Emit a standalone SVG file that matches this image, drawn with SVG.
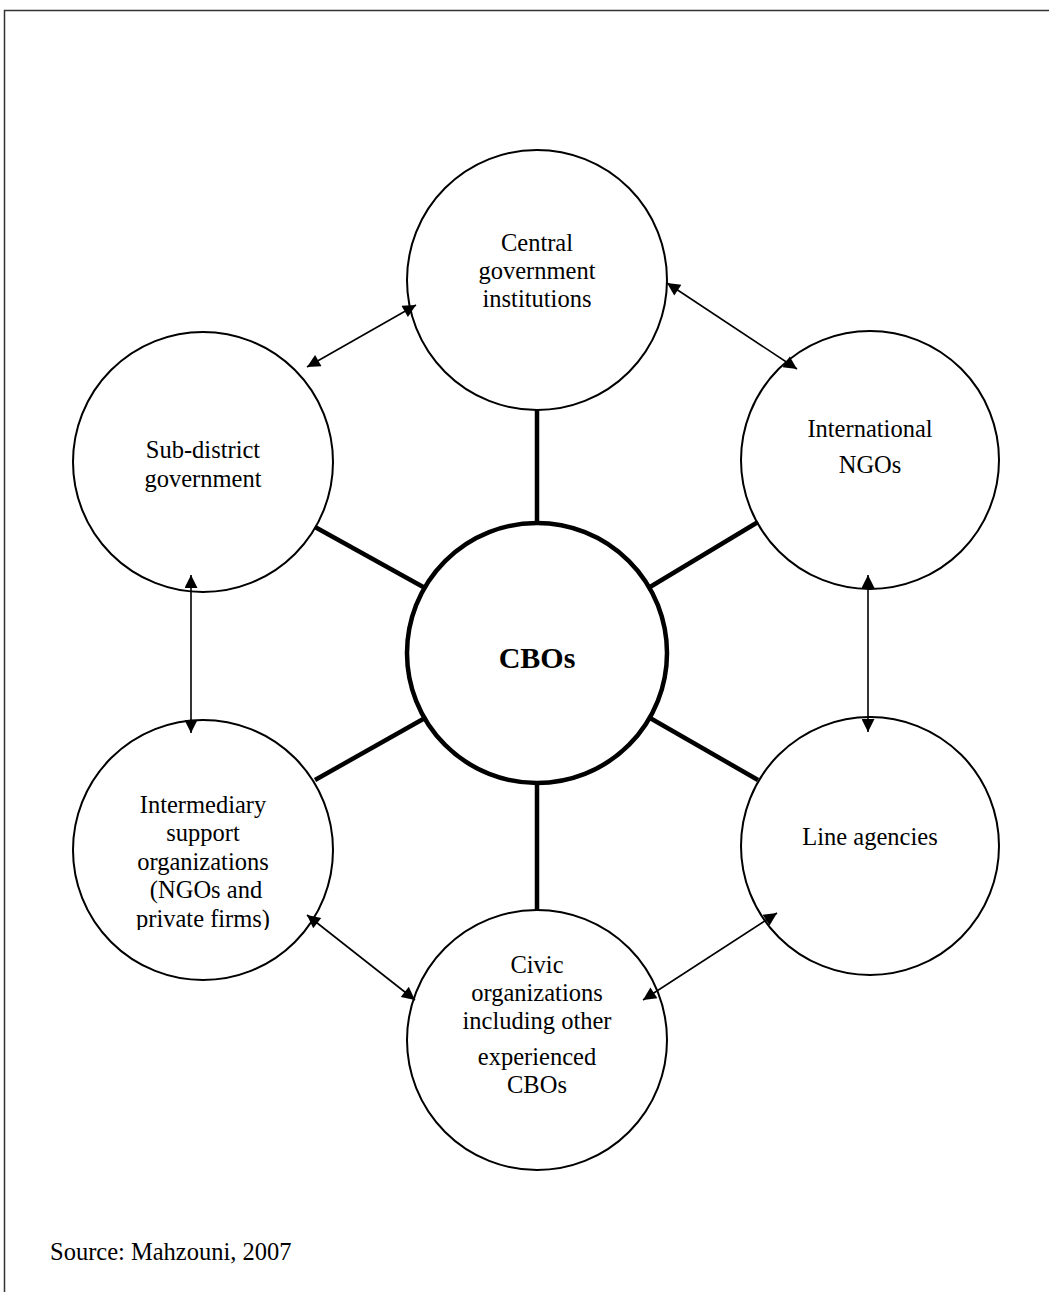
<svg xmlns="http://www.w3.org/2000/svg" width="1049" height="1292" viewBox="0 0 1049 1292">
<style>
.node{fill:#fff;stroke:#000;stroke-width:2}
.center{fill:#fff;stroke:#000;stroke-width:4.5}
text{font-family:'Liberation Serif','Times New Roman',Times,serif;fill:#000;text-anchor:middle}
.t{font-size:24.5px}
.b{font-size:30px;font-weight:bold}
.spoke{stroke:#000;stroke-width:4.5}
.arr{stroke:#000;stroke-width:1.6;fill:none;marker-start:url(#ah);marker-end:url(#ah)}
</style>
<defs>
<marker id="ah" viewBox="0 0 10 10" refX="10" refY="5" markerWidth="16" markerHeight="13" markerUnits="userSpaceOnUse" orient="auto-start-reverse">
<path d="M0,0 L10,5 L0,10 Z" fill="#000"/>
</marker>
<clipPath id="clipInt"><rect x="60" y="700" width="300" height="230"/></clipPath>
</defs>
<rect width="1049" height="1292" fill="#fff"/>
<path d="M4.5,1292 V10.5 H1049" fill="none" stroke="#333" stroke-width="1.5"/>
<g id="central-gov">
<circle class="node" cx="537" cy="280" r="130"/>
<text class="t" x="537" y="251" font-family="Liberation Serif, serif">Central</text>
<text class="t" x="537" y="279" font-family="Liberation Serif, serif">government</text>
<text class="t" x="537" y="307" font-family="Liberation Serif, serif">institutions</text>
</g>
<g id="sub-district">
<circle class="node" cx="203" cy="462" r="130"/>
<text class="t" x="203" y="458" font-family="Liberation Serif, serif">Sub-district</text>
<text class="t" x="203" y="487" font-family="Liberation Serif, serif">government</text>
</g>
<g id="intl-ngos">
<circle class="node" cx="870" cy="460" r="129"/>
<text class="t" x="870" y="437" font-family="Liberation Serif, serif">International</text>
<text class="t" x="870" y="473" font-family="Liberation Serif, serif">NGOs</text>
</g>
<g id="cbos">
<circle class="center" cx="537" cy="653" r="130"/>
<text class="b" x="537" y="668" font-family="Liberation Serif, serif">CBOs</text>
</g>
<g id="intermediary">
<circle class="node" cx="203" cy="850" r="130"/>
<g clip-path="url(#clipInt)">
<text class="t" x="203" y="813" font-family="Liberation Serif, serif">Intermediary</text>
<text class="t" x="203" y="841" font-family="Liberation Serif, serif">support</text>
<text class="t" x="203" y="870" font-family="Liberation Serif, serif">organizations</text>
<text class="t" x="206" y="898" font-family="Liberation Serif, serif">(NGOs and</text>
<text class="t" x="203" y="927" font-family="Liberation Serif, serif">private firms)</text>
</g>
</g>
<g id="line-agencies">
<circle class="node" cx="870" cy="846" r="129"/>
<text class="t" x="870" y="845" font-family="Liberation Serif, serif">Line agencies</text>
</g>
<g id="civic">
<circle class="node" cx="537" cy="1040" r="130"/>
<text class="t" x="537" y="973" font-family="Liberation Serif, serif">Civic</text>
<text class="t" x="537" y="1001" font-family="Liberation Serif, serif">organizations</text>
<text class="t" x="537" y="1029" font-family="Liberation Serif, serif">including other</text>
<text class="t" x="537" y="1065" font-family="Liberation Serif, serif">experienced</text>
<text class="t" x="537" y="1093" font-family="Liberation Serif, serif">CBOs</text>
</g>
<g id="connectors">
<line class="spoke" x1="537" y1="410" x2="537" y2="523"/>
<line class="spoke" x1="537" y1="783" x2="537" y2="910"/>
<line class="spoke" x1="315" y1="527" x2="425" y2="588"/>
<line class="spoke" x1="758" y1="522" x2="650" y2="587"/>
<line class="spoke" x1="315" y1="780" x2="425" y2="718"/>
<line class="spoke" x1="650" y1="718" x2="758" y2="780"/>
<line class="arr" x1="307" y1="367" x2="416" y2="305"/>
<line class="arr" x1="667" y1="283" x2="797" y2="369"/>
<line class="arr" x1="191" y1="575" x2="191" y2="733"/>
<line class="arr" x1="868" y1="575" x2="868" y2="732"/>
<line class="arr" x1="307" y1="915" x2="415" y2="1000"/>
<line class="arr" x1="777" y1="913" x2="643" y2="1000"/>
</g>
<text class="t" x="50" y="1260" style="text-anchor:start" font-family="Liberation Serif, serif">Source: Mahzouni, 2007</text>
</svg>
